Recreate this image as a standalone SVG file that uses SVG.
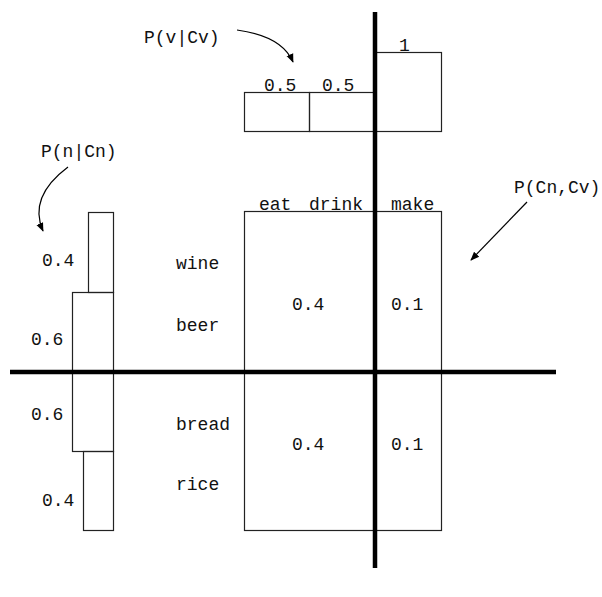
<svg xmlns="http://www.w3.org/2000/svg" width="602" height="597" viewBox="0 0 602 597">
<defs>
<style>
text{font-family:"Liberation Mono","DejaVu Sans Mono",monospace;font-size:18px;fill:#111}
.box{fill:none;stroke:#222;stroke-width:1.2}
.axis{stroke:#000;stroke-width:4.5;fill:none}
.arr{fill:none;stroke:#000;stroke-width:1.2;marker-end:url(#ah)}
</style>
<marker id="ah" viewBox="0 0 10 10" refX="9" refY="5" markerWidth="9" markerHeight="9" markerUnits="userSpaceOnUse" orient="auto">
<path d="M0,1 L10,5 L0,9 Z" fill="#000"/>
</marker>
</defs>
<rect width="602" height="597" fill="#fff"/>

<g id="pv-boxes">
<rect class="box" x="244.5" y="92.5" width="65" height="39"/>
<rect class="box" x="309.5" y="92.5" width="66" height="39"/>
<rect class="box" x="375.5" y="52.5" width="66" height="79"/>
<text x="264" y="91">0.5</text>
<text x="322" y="91">0.5</text>
<text x="399" y="51">1</text>
</g>

<g id="joint-grid">
<rect class="box" x="244.5" y="211.5" width="197" height="319"/>
<text x="259" y="210">eat</text>
<text x="309" y="210">drink</text>
<text x="391" y="210">make</text>
<text x="292" y="310">0.4</text>
<text x="391" y="310">0.1</text>
<text x="292" y="450">0.4</text>
<text x="391" y="450">0.1</text>
</g>

<g id="pn-bars">
<rect class="box" x="88.5" y="212.5" width="25" height="80"/>
<rect class="box" x="72.5" y="292.5" width="41" height="159"/>
<rect class="box" x="83.5" y="451.5" width="30" height="79"/>
<text x="42" y="266">0.4</text>
<text x="31" y="345">0.6</text>
<text x="31" y="420">0.6</text>
<text x="42" y="506">0.4</text>
</g>

<g id="nouns">
<text x="176" y="269">wine</text>
<text x="176" y="331">beer</text>
<text x="176" y="430">bread</text>
<text x="176" y="490">rice</text>
</g>

<g id="labels">
<text x="144" y="43">P(v|Cv)</text>
<text x="41" y="157">P(n|Cn)</text>
<text x="514" y="193">P(Cn,Cv)</text>
</g>

<g id="connectors">
<line class="axis" x1="375" y1="12" x2="375" y2="568"/>
<line class="axis" x1="10" y1="372" x2="556" y2="372"/>
<path class="arr" d="M237,30 Q282,36 293,62"/>
<path class="arr" d="M68,167 Q28,197 43,231"/>
<path class="arr" d="M527,202 L471,260"/>
</g>
</svg>
